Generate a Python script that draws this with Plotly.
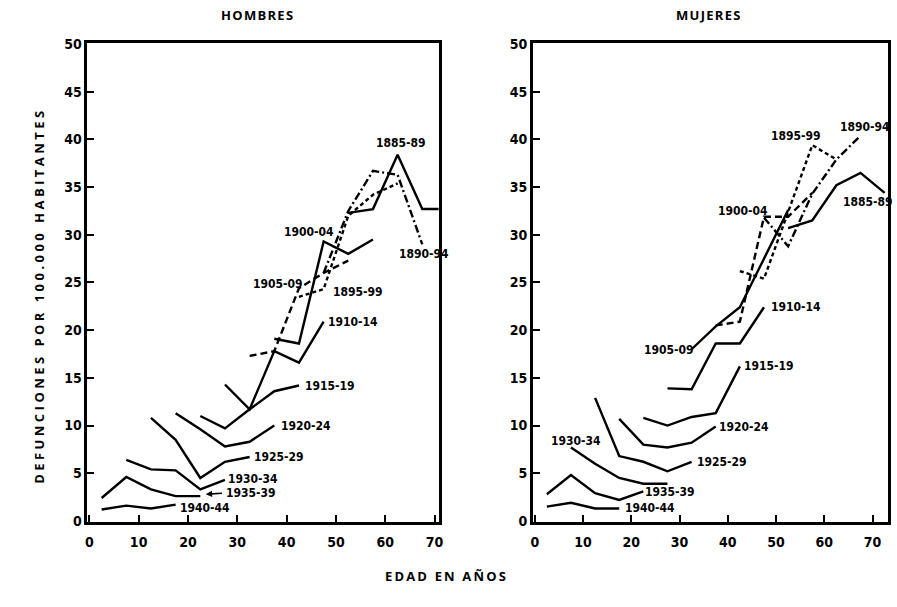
import plotly.graph_objects as go

# ---------------- DATA ----------------
cohorts = ["1885-89", "1890-94", "1895-99", "1900-04", "1905-09", "1910-14",
           "1915-19", "1920-24", "1925-29", "1930-34", "1935-39", "1940-44"]

ages_1885 = [52.5, 57.5, 62.5, 67.5, 72.5]
ages_1890 = [47.5, 52.5, 57.5, 62.5, 67.5]
ages_1895 = [42.5, 47.5, 52.5, 57.5, 62.5]
ages_1900 = [37.5, 42.5, 47.5, 52.5, 57.5]
ages_1905 = [32.5, 37.5, 42.5, 47.5, 52.5]
ages_1910 = [27.5, 32.5, 37.5, 42.5, 47.5]
ages_1915 = [22.5, 27.5, 32.5, 37.5, 42.5]
ages_1920 = [17.5, 22.5, 27.5, 32.5, 37.5]
ages_1925 = [12.5, 17.5, 22.5, 27.5, 32.5]
ages_1930 = [7.5, 12.5, 17.5, 22.5, 27.5]
ages_1935 = [2.5, 7.5, 12.5, 17.5, 22.5]
ages_1940 = [2.5, 7.5, 12.5, 17.5]

# HOMBRES (men)
men_1885 = [32.3, 32.7, 38.4, 32.7, 32.7]
men_1890 = [26.0, 32.5, 36.7, 36.3, 29.0]
men_1895 = [23.5, 24.3, 32.0, 34.2, 35.4]
men_1900 = [19.1, 18.6, 29.3, 28.0, 29.5]
men_1905 = [17.3, 17.8, 24.4, 26.0, 27.3]
men_1910 = [14.3, 11.7, 17.8, 16.6, 20.9]
men_1915 = [11.0, 9.7, 11.7, 13.6, 14.2]
men_1920 = [11.3, 9.6, 7.8, 8.3, 10.0]
men_1925 = [10.8, 8.5, 4.5, 6.2, 6.7]
men_1930 = [6.4, 5.4, 5.3, 3.3, 4.3]
men_1935 = [2.4, 4.6, 3.3, 2.6, 2.6]
men_1940 = [1.2, 1.6, 1.3, 1.7]

# MUJERES (women)
wom_1885 = [30.7, 31.5, 35.2, 36.5, 34.4]
wom_1890 = [31.8, 28.8, 34.3, 37.9, 40.4]
wom_1895 = [26.2, 25.4, 32.4, 39.4, 37.9]
wom_1900 = [20.5, 20.9, 31.9, 31.9, 34.4]
wom_1905 = [18.0, 20.4, 22.4, 27.5, 32.6]
wom_1910 = [13.9, 13.8, 18.6, 18.6, 22.4]
wom_1915 = [10.8, 10.0, 10.9, 11.3, 16.2]
wom_1920 = [10.7, 8.0, 7.7, 8.2, 9.9]
wom_1925 = [12.9, 6.8, 6.2, 5.2, 6.2]
wom_1930 = [7.7, 6.0, 4.5, 3.9, 3.9]
wom_1935 = [2.8, 4.8, 2.9, 2.2, 3.1]
wom_1940 = [1.5, 1.9, 1.3, 1.3]

x_ticks = [0, 10, 20, 30, 40, 50, 60, 70]
y_ticks = [0, 5, 10, 15, 20, 25, 30, 35, 40, 45, 50]

ages = [ages_1885, ages_1890, ages_1895, ages_1900, ages_1905, ages_1910,
        ages_1915, ages_1920, ages_1925, ages_1930, ages_1935, ages_1940]
men = [men_1885, men_1890, men_1895, men_1900, men_1905, men_1910,
       men_1915, men_1920, men_1925, men_1930, men_1935, men_1940]
wom = [wom_1885, wom_1890, wom_1895, wom_1900, wom_1905, wom_1910,
       wom_1915, wom_1920, wom_1925, wom_1930, wom_1935, wom_1940]

# ---------------- STYLES ----------------
LONG = "7px,4px"
SHORT = "4px,3px"
DASHDOT = "8px,3px,2px,3px"
men_dash = ["solid", DASHDOT, SHORT, "solid", LONG, "solid",
            "solid", "solid", "solid", "solid", "solid", "solid"]
wom_dash = ["solid", DASHDOT, SHORT, LONG, "solid", "solid",
            "solid", "solid", "solid", "solid", "solid", "solid"]

# label positions (age, value)
men_lab = {
    "1885-89": (57.8, 39.6), "1890-94": (62.4, 28.0),
    "1895-99": (49.0, 24.0), "1900-04": (39.0, 30.3),
    "1905-09": (32.8, 24.8), "1910-14": (48.0, 20.9),
    "1915-19": (43.4, 14.1), "1920-24": (38.4, 10.0),
    "1925-29": (33.0, 6.7), "1930-34": (27.8, 4.4),
    "1935-39": (27.4, 2.9), "1940-44": (18.0, 1.4),
}
wom_lab = {
    "1885-89": (63.4, 33.4), "1890-94": (62.8, 41.3),
    "1895-99": (48.5, 40.4), "1900-04": (37.6, 32.5),
    "1905-09": (22.3, 17.9), "1910-14": (48.5, 22.4),
    "1915-19": (43.0, 16.2), "1920-24": (37.7, 9.8),
    "1925-29": (33.2, 6.2), "1930-34": (3.0, 8.4),
    "1935-39": (22.5, 3.0), "1940-44": (18.3, 1.35),
}

fig = go.Figure()
for i, c in enumerate(cohorts):
    fig.add_trace(go.Scatter(x=ages[i], y=men[i], mode="lines", xaxis="x", yaxis="y",
                             line=dict(color="black", width=2.4, dash=men_dash[i]),
                             showlegend=False, hoverinfo="skip"))
    fig.add_trace(go.Scatter(x=ages[i], y=wom[i], mode="lines", xaxis="x2", yaxis="y2",
                             line=dict(color="black", width=2.4, dash=wom_dash[i]),
                             showlegend=False, hoverinfo="skip"))

LABFONT = dict(family="Liberation Sans Narrow, DejaVu Sans Condensed, Arial Narrow, sans-serif",
               size=12, color="black", weight="bold")
ann = []
for c in cohorts:
    x, y = men_lab[c]
    ann.append(dict(x=x, y=y, xref="x", yref="y", text=c, showarrow=False,
                    xanchor="left", yanchor="middle", font=LABFONT))
    x, y = wom_lab[c]
    ann.append(dict(x=x, y=y, xref="x2", yref="y2", text=c, showarrow=False,
                    xanchor="left", yanchor="middle", font=LABFONT))
# arrow for 1935-39 (men)
ann.append(dict(x=23.6, y=2.8, ax=27.2, ay=2.9, xref="x", yref="y", axref="x", ayref="y",
                text="", showarrow=True, arrowhead=2, arrowsize=0.8, arrowwidth=1.6,
                arrowcolor="black"))

W, H = 897, 607
TITLEFONT = dict(family="Open Sans, DejaVu Sans, sans-serif", size=13, color="black", weight="bold")


def spaced(s, sep="\u2009"):
    return sep.join(list(s))


titles = [
    (257, 8, spaced("HOMBRES", "\u200a"), 0),
    (712, 8, spaced("MUJERES", "\u200a"), 0),
    (447, 582, spaced("EDAD EN AÑOS"), 0),
    (37, 297, spaced("DEFUNCIONES POR 100.000 HABITANTES", "\u2009\u200a"), -90),
]
for (px, py, t, ang) in titles:
    ann.append(dict(x=px / W, y=1 - py / H, xref="paper", yref="paper", text=t,
                    showarrow=False, textangle=ang, xanchor="center", yanchor="middle",
                    font=TITLEFONT))

TICKFONT = dict(family="Liberation Sans Narrow, DejaVu Sans Condensed, Arial Narrow, sans-serif",
                size=14, color="black", weight="bold")
axcommon = dict(showgrid=False, zeroline=False, showline=True, mirror=True,
                linecolor="black", linewidth=2.5, ticks="inside", ticklen=7,
                tickwidth=2, tickcolor="black", tickfont=TICKFONT)

fig.update_layout(
    width=W, height=H, margin=dict(l=0, r=0, t=0, b=0),
    paper_bgcolor="white", plot_bgcolor="white",
    xaxis=dict(domain=[86 / W, 440 / W], range=[-0.4, 70.8], tickvals=x_ticks,
               anchor="y", ticklabelstandoff=6, **axcommon),
    yaxis=dict(domain=[1 - 527 / H, 1 - 37 / H], range=[-0.1, 50.1], tickvals=y_ticks,
               anchor="x", **axcommon),
    xaxis2=dict(domain=[535 / W, 893 / W], range=[-0.4, 73.2], tickvals=x_ticks,
                anchor="y2", ticklabelstandoff=6, **axcommon),
    yaxis2=dict(domain=[1 - 527 / H, 1 - 37 / H], range=[-0.1, 50.1], tickvals=y_ticks,
                anchor="x2", **axcommon),
    annotations=ann,
)

fig.write_html("out.html")
